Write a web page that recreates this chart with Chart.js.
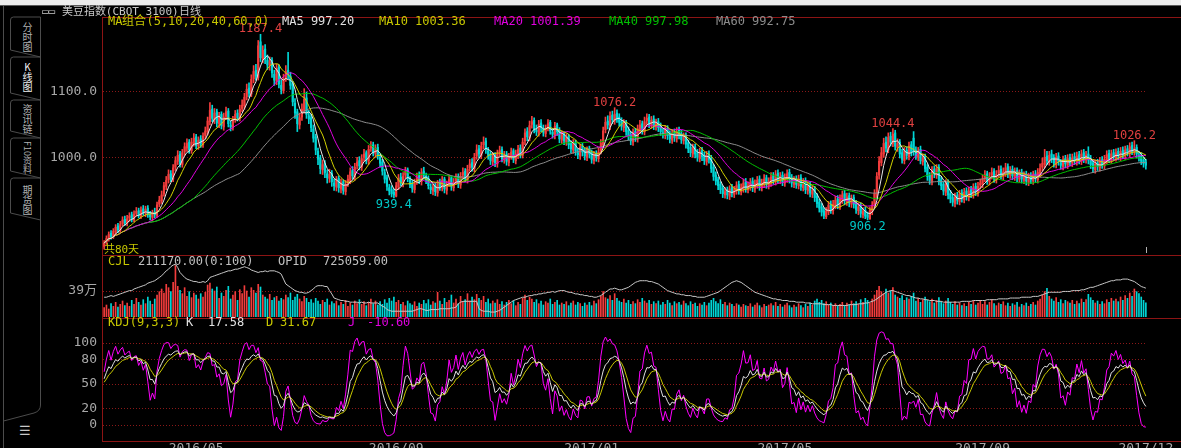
<!DOCTYPE html>
<html lang="zh-CN">
<head>
<meta charset="utf-8">
<title>美豆指数(CBOT 3100)日线</title>
<script src="https://cdn.jsdelivr.net/npm/chart.js@4.4.1/dist/chart.umd.min.js"></script>
<style>
  html, body { margin: 0; padding: 0; background: #000; }
  body { position: relative; width: 1181px; height: 448px; overflow: hidden; font-family: "DejaVu Sans Mono", monospace; }
  canvas { position: absolute; left: 0; }
  .t { position: absolute; white-space: pre; font-size: 12px; line-height: 12px; }
  .rl { position: absolute; background: #8c1414; }
  .tab { position: absolute; left: 22px; writing-mode: vertical-rl; font: 10px/11px "Noto Sans CJK SC", sans-serif; color: #b0b0b0; }
</style>
</head>
<body>
<div style="position:absolute;left:0;top:0;width:1181px;height:5px;background:#ececec"></div>
<div style="position:absolute;left:0;top:5px;width:1181px;height:1px;background:#5a5a5a"></div>

<svg width="102" height="448" style="position:absolute;left:0;top:0" fill="none" stroke="#4c4c4c">
  <path d="M3.5 6 V448"/>
  <path d="M40.5 17 V405 Q40.5 411 34 413 L3.5 421"/>
  <path d="M40.5 17 H13.5 Q10.5 17 10.5 20 V50 L40.5 57"/>
  <path d="M40.5 57 H13.5 Q10.5 57 10.5 60 V93 L40.5 100"/>
  <path d="M40.5 100 H13.5 Q10.5 100 10.5 103 V131 L40.5 138"/>
  <path d="M40.5 138 H13.5 Q10.5 138 10.5 141 V171 L40.5 178"/>
  <path d="M40.5 178 H13.5 Q10.5 178 10.5 181 V213 L40.5 220"/>
</svg>
<div class="tab" style="top:22px">分时图</div>
<div class="tab" style="top:62px;color:#f0f0f0;text-orientation:upright">K线图</div>
<div class="tab" style="top:104px">资讯链</div>
<div class="tab" style="top:141px;font-size:9px">F10资料</div>
<div class="tab" style="top:185px">期货图</div>
<div class="t" style="left:19px;top:425px;font-size:13px;color:#c8c8c8">☰</div>

<canvas id="graficoPrecio" width="1181" height="255" style="top:0"></canvas>
<canvas id="graficoVolumen" width="1181" height="63" style="top:255px"></canvas>
<canvas id="graficoKDJ" width="1181" height="130" style="top:318px"></canvas>

<div class="rl" style="left:102px;top:17px;width:1079px;height:1px"></div>
<div class="rl" style="left:102px;top:255px;width:1079px;height:1px"></div>
<div class="rl" style="left:102px;top:318px;width:1079px;height:1px"></div>
<div class="rl" style="left:102px;top:441px;width:1079px;height:1px"></div>
<div class="rl" style="left:102px;top:17px;width:1px;height:425px"></div>

<div class="t" style="left:42px;top:6px;font-size:11px;color:#c8c8c8">▭▭ 美豆指数(CBOT 3100)日线</div>

<div class="t" style="left:108px;top:15px;color:#c8c800">MA组合(5,10,20,40,60,0)</div>
<div class="t" style="left:282px;top:15px;color:#e0e0e0">MA5 997.20</div>
<div class="t" style="left:379px;top:15px;color:#c8c800">MA10 1003.36</div>
<div class="t" style="left:494px;top:15px;color:#e000e0">MA20 1001.39</div>
<div class="t" style="left:609px;top:15px;color:#00c000">MA40 997.98</div>
<div class="t" style="left:716px;top:15px;color:#8c8c8c">MA60 992.75</div>
<div class="t" style="left:104px;top:244px;font-size:11px;color:#c8c800">共80天</div>

<div class="t" style="left:108px;top:255px;color:#c8c800">CJL</div>
<div class="t" style="left:138px;top:255px;color:#c0c0c0">211170.00(0:100)</div>
<div class="t" style="left:278px;top:255px;color:#c0c0c0">OPID</div>
<div class="t" style="left:323px;top:255px;color:#c0c0c0">725059.00</div>

<div class="t" style="left:108px;top:316px;color:#c8c800">KDJ(9,3,3)</div>
<div class="t" style="left:186px;top:316px;color:#e0e0e0">K</div>
<div class="t" style="left:208px;top:316px;color:#e0e0e0">17.58</div>
<div class="t" style="left:266px;top:316px;color:#c8c800">D</div>
<div class="t" style="left:280px;top:316px;color:#c8c800">31.67</div>
<div class="t" style="left:348px;top:316px;color:#e000e0">J</div>
<div class="t" style="left:367px;top:316px;color:#e000e0">-10.60</div>

<script>
// 美豆指数 日线：K线 + MA，成交量/持仓量，KDJ

const opens = [
  866, 872, 877, 886, 881, 888, 897, 890, 900, 907,
  901, 909, 914, 906, 916, 920, 912, 923, 916, 924,
  914, 910, 918, 913, 930, 935, 946, 957, 967, 976,
  968, 986, 995, 1006, 990, 1009, 1015, 1024, 1011, 1023,
  1032, 1018, 1029, 1020, 1034, 1040, 1055, 1074, 1058, 1070,
  1052, 1066, 1047, 1063, 1071, 1050, 1046, 1059, 1068, 1060,
  1075, 1079, 1093, 1106, 1097, 1120, 1133, 1122, 1176, 1150,
  1165, 1148, 1140, 1148, 1127, 1116, 1138, 1110, 1102, 1121,
  1133, 1124, 1112, 1083, 1070, 1050, 1062, 1072, 1091, 1064,
  1061, 1044, 1032, 1010, 1000, 982, 992, 976, 969, 977,
  962, 956, 969, 953, 964, 949, 962, 966, 981, 971,
  988, 996, 986, 1001, 1008, 995, 1015, 1020, 1006, 1016,
  1001, 994, 978, 970, 955, 952, 948, 942, 956, 971,
  961, 974, 982, 967, 962, 952, 965, 973, 964, 980,
  972, 969, 956, 950, 957, 947, 963, 955, 968, 951,
  962, 970, 955, 965, 972, 959, 974, 980, 967, 985,
  993, 984, 1003, 1014, 1004, 1020, 1026, 1011, 1006, 994,
  1004, 991, 1009, 1013, 997, 1006, 993, 1003, 1011, 996,
  1004, 1015, 1004, 1026, 1040, 1030, 1051, 1057, 1042, 1038,
  1053, 1044, 1037, 1046, 1054, 1039, 1034, 1050, 1042, 1027,
  1037, 1024, 1033, 1022, 1012, 1024, 1008, 1003, 1018, 1011,
  1001, 1014, 1008, 996, 1006, 999, 1011, 1020, 1043, 1056,
  1048, 1065, 1056, 1068, 1062, 1056, 1046, 1053, 1042, 1035,
  1024, 1040, 1029, 1042, 1052, 1040, 1057, 1062, 1050, 1059,
  1047, 1055, 1048, 1038, 1034, 1045, 1036, 1027, 1039, 1029,
  1042, 1037, 1026, 1034, 1023, 1016, 1006, 1017, 1008, 999,
  1011, 1004, 994, 1006, 1000, 986, 974, 967, 960, 954,
  944, 951, 942, 955, 945, 950, 960, 949, 953, 964,
  952, 956, 965, 953, 959, 968, 955, 960, 970, 958,
  962, 973, 964, 977, 966, 974, 962, 968, 978, 970,
  960, 968, 958, 970, 955, 965, 950, 960, 945, 953,
  942, 933, 926, 920, 911, 918, 930, 920, 928, 938,
  927, 936, 946, 933, 943, 930, 940, 932, 920, 928,
  914, 921, 914, 908, 919, 930, 944, 974, 993, 1006,
  1024, 1013, 1033, 1022, 1038, 1016, 1024, 1008, 996, 1012,
  1002, 1020, 1030, 1012, 1001, 1013, 994, 1002, 986, 974,
  964, 983, 974, 986, 967, 960, 948, 963, 946, 940,
  931, 943, 934, 947, 937, 950, 940, 952, 944, 957,
  947, 959, 960, 970, 976, 964, 974, 980, 967, 977,
  983, 972, 977, 987, 974, 983, 971, 981, 968, 978,
  966, 975, 963, 973, 965, 976, 967, 976, 986, 990,
  1003, 994, 1006, 1001, 990, 1003, 993, 987, 999, 989,
  1001, 992, 1002, 994, 1005, 995, 1008, 997, 1006, 999,
  992, 982, 993, 985, 997, 988, 996, 1007, 997, 1008,
  1000, 1010, 1001, 1012, 1003, 1014, 1007, 1019, 1009, 1016,
  1004, 1003, 997, 994
];

const highs = [
  875, 882, 888, 890, 893, 899, 901, 904, 911, 912,
  913, 917, 918, 920, 925, 924, 926, 928, 927, 928,
  919, 921, 924, 933, 942, 950, 963, 972, 982, 981,
  990, 1002, 1011, 1010, 1013, 1023, 1029, 1028, 1030, 1037,
  1036, 1032, 1034, 1038, 1047, 1062, 1084, 1080, 1075, 1074,
  1069, 1070, 1068, 1077, 1075, 1056, 1063, 1072, 1073, 1080,
  1088, 1098, 1112, 1114, 1126, 1140, 1142, 1178, 1187.4, 1170,
  1172, 1156, 1153, 1152, 1133, 1142, 1141, 1118, 1127, 1140,
  1160, 1130, 1116, 1090, 1074, 1068, 1082, 1105, 1100, 1072,
  1066, 1050, 1036, 1015, 1004, 997, 996, 982, 983, 981,
  968, 972, 973, 968, 967, 966, 974, 985, 987, 992,
  1001, 1002, 1005, 1013, 1011, 1019, 1025, 1024, 1020, 1021,
  1006, 998, 983, 974, 960, 958, 953, 963, 975, 977,
  978, 986, 985, 972, 966, 968, 977, 979, 984, 986,
  977, 973, 961, 960, 962, 966, 968, 972, 971, 965,
  974, 973, 969, 976, 976, 978, 985, 984, 989, 998,
  999, 1007, 1020, 1019, 1024, 1032, 1030, 1016, 1010, 1008,
  1008, 1012, 1018, 1017, 1010, 1010, 1007, 1015, 1014, 1012,
  1019, 1020, 1030, 1044, 1046, 1056, 1063, 1061, 1050, 1057,
  1058, 1050, 1050, 1058, 1057, 1045, 1054, 1053, 1046, 1041,
  1040, 1037, 1036, 1026, 1028, 1027, 1014, 1021, 1022, 1015,
  1017, 1018, 1012, 1010, 1011, 1015, 1028, 1047, 1062, 1064,
  1070, 1071, 1076.2, 1073, 1067, 1061, 1058, 1057, 1047, 1040,
  1044, 1045, 1050, 1057, 1056, 1062, 1067, 1066, 1063, 1064,
  1059, 1060, 1053, 1044, 1049, 1049, 1041, 1043, 1044, 1046,
  1047, 1042, 1038, 1038, 1027, 1021, 1021, 1021, 1013, 1015,
  1016, 1009, 1010, 1011, 1004, 990, 979, 971, 964, 958,
  955, 956, 958, 960, 957, 964, 965, 961, 968, 969,
  964, 969, 970, 967, 972, 973, 968, 975, 974, 970,
  978, 978, 981, 982, 978, 979, 976, 982, 983, 975,
  972, 973, 974, 975, 969, 970, 964, 964, 957, 957,
  946, 938, 931, 925, 925, 934, 935, 936, 942, 943,
  944, 950, 951, 947, 947, 944, 944, 936, 932, 932,
  925, 926, 918, 926, 934, 952, 978, 1002, 1016, 1030,
  1032, 1038, 1039, 1044.4, 1042, 1029, 1028, 1013, 1016, 1017,
  1024, 1025, 1040, 1017, 1016, 1018, 1006, 1006, 990, 978,
  987, 988, 990, 990, 972, 964, 967, 967, 951, 945,
  947, 948, 951, 952, 954, 955, 956, 957, 961, 962,
  963, 968, 974, 981, 980, 978, 985, 984, 981, 988,
  988, 985, 992, 991, 987, 988, 985, 985, 982, 983,
  979, 980, 977, 978, 980, 981, 984, 991, 1000, 1013,
  1010, 1010, 1012, 1005, 1007, 1008, 998, 1003, 1004, 1005,
  1006, 1006, 1008, 1009, 1010, 1012, 1013, 1010, 1017, 1004,
  997, 997, 998, 1001, 1002, 1004, 1011, 1012, 1012, 1013,
  1014, 1015, 1016, 1017, 1018, 1019, 1023, 1024, 1026.2, 1020,
  1010, 1008, 1001, 998
];

const lows = [
  862, 869, 874, 877, 878, 884, 887, 887, 897, 898,
  897, 904, 903, 903, 912, 909, 908, 913, 911, 910,
  906, 905, 909, 910, 926, 931, 942, 952, 962, 964,
  964, 981, 990, 986, 986, 1004, 1010, 1007, 1007, 1018,
  1014, 1013, 1016, 1016, 1029, 1035, 1050, 1055, 1052, 1047,
  1046, 1044, 1042, 1058, 1047, 1041, 1042, 1054, 1056, 1056,
  1070, 1074, 1088, 1092, 1093, 1114, 1118, 1118, 1146, 1144,
  1143, 1134, 1133, 1122, 1110, 1111, 1106, 1097, 1098, 1116,
  1120, 1104, 1079, 1060, 1040, 1044, 1057, 1068, 1060, 1052,
  1040, 1024, 1005, 990, 976, 975, 970, 962, 963, 957,
  951, 950, 948, 947, 945, 944, 957, 961, 968, 966,
  983, 982, 981, 995, 991, 990, 1010, 1003, 1001, 998,
  986, 974, 962, 951, 944, 941, 939.4, 941, 952, 958,
  956, 969, 964, 955, 948, 947, 960, 961, 959, 968,
  961, 953, 946, 944, 943, 942, 951, 950, 947, 945,
  957, 951, 950, 960, 955, 954, 969, 964, 962, 980,
  980, 979, 998, 1000, 999, 1014, 1007, 998, 990, 989,
  987, 986, 1003, 994, 992, 989, 988, 998, 993, 991,
  999, 1000, 1000, 1020, 1026, 1026, 1045, 1038, 1034, 1033,
  1040, 1033, 1032, 1041, 1036, 1030, 1029, 1034, 1023, 1022,
  1020, 1019, 1014, 1008, 1007, 1004, 999, 998, 1003, 997,
  996, 1000, 992, 991, 995, 994, 1006, 1016, 1038, 1044,
  1043, 1052, 1051, 1054, 1048, 1042, 1040, 1034, 1027, 1020,
  1019, 1025, 1024, 1037, 1036, 1035, 1051, 1046, 1045, 1043,
  1042, 1040, 1034, 1030, 1029, 1028, 1023, 1022, 1025, 1024,
  1029, 1022, 1021, 1015, 1008, 1002, 1001, 1000, 995, 994,
  996, 990, 989, 992, 978, 966, 959, 952, 946, 940,
  939, 938, 937, 941, 940, 945, 945, 944, 948, 948,
  947, 951, 949, 948, 954, 951, 950, 955, 954, 953,
  957, 960, 959, 962, 961, 958, 957, 963, 962, 956,
  955, 954, 953, 951, 950, 946, 945, 941, 940, 934,
  925, 918, 912, 908, 908, 914, 916, 915, 923, 923,
  922, 931, 929, 928, 926, 925, 924, 916, 914, 910,
  909, 908, 906.2, 907, 914, 925, 940, 968, 988, 1001,
  1009, 1008, 1018, 1017, 1012, 1010, 1000, 992, 991, 998,
  997, 1003, 1004, 998, 996, 991, 989, 979, 966, 960,
  959, 970, 969, 959, 952, 944, 943, 938, 932, 927,
  926, 930, 929, 933, 932, 936, 935, 940, 939, 943,
  942, 953, 955, 964, 960, 959, 968, 963, 962, 971,
  968, 967, 972, 970, 969, 967, 966, 964, 963, 962,
  961, 959, 958, 961, 960, 963, 962, 971, 980, 985,
  990, 989, 993, 986, 985, 989, 983, 982, 985, 984,
  988, 987, 990, 989, 991, 990, 993, 992, 991, 984,
  978, 977, 981, 980, 984, 983, 991, 993, 992, 996,
  995, 997, 996, 999, 998, 1003, 1002, 1005, 1004, 1000,
  995, 990, 986, 983
];

const closes = [
  871, 878, 884, 880, 889, 895, 891, 899, 906, 902,
  908, 912, 907, 915, 919, 913, 921, 917, 922, 915,
  911, 917, 914, 929, 936, 944, 958, 966, 975, 969,
  985, 996, 1004, 991, 1008, 1017, 1022, 1012, 1024, 1030,
  1019, 1027, 1021, 1033, 1041, 1056, 1072, 1060, 1068, 1053,
  1064, 1049, 1062, 1070, 1052, 1047, 1058, 1066, 1061, 1074,
  1080, 1092, 1104, 1098, 1119, 1131, 1124, 1170, 1152, 1163,
  1150, 1141, 1146, 1129, 1118, 1136, 1112, 1104, 1120, 1131,
  1126, 1110, 1085, 1068, 1052, 1061, 1074, 1089, 1066, 1059,
  1046, 1030, 1012, 998, 984, 990, 978, 970, 975, 964,
  958, 967, 955, 962, 951, 960, 968, 979, 973, 986,
  994, 988, 999, 1006, 997, 1013, 1018, 1008, 1014, 1003,
  992, 980, 968, 957, 950, 946, 944, 958, 969, 963,
  972, 980, 969, 960, 954, 963, 971, 966, 978, 974,
  967, 958, 952, 955, 949, 961, 957, 966, 953, 960,
  968, 957, 963, 970, 961, 972, 978, 969, 983, 991,
  986, 1001, 1012, 1006, 1018, 1024, 1013, 1004, 996, 1002,
  993, 1007, 1011, 999, 1004, 995, 1001, 1009, 998, 1006,
  1013, 1006, 1024, 1038, 1032, 1049, 1055, 1044, 1040, 1051,
  1046, 1039, 1044, 1052, 1041, 1036, 1048, 1040, 1029, 1035,
  1026, 1031, 1020, 1014, 1022, 1010, 1005, 1016, 1009, 1003,
  1012, 1006, 998, 1004, 1001, 1009, 1022, 1041, 1054, 1050,
  1063, 1058, 1066, 1060, 1054, 1048, 1051, 1040, 1033, 1026,
  1038, 1031, 1044, 1050, 1042, 1055, 1060, 1052, 1057, 1049,
  1053, 1046, 1040, 1036, 1043, 1034, 1029, 1037, 1031, 1040,
  1035, 1028, 1032, 1021, 1014, 1008, 1015, 1006, 1001, 1009,
  1002, 996, 1004, 998, 984, 972, 965, 958, 952, 946,
  949, 944, 953, 947, 952, 958, 951, 955, 962, 954,
  958, 963, 955, 961, 966, 957, 962, 968, 960, 964,
  971, 966, 975, 968, 972, 964, 970, 976, 968, 962,
  966, 960, 968, 957, 963, 952, 958, 947, 951, 940,
  931, 924, 918, 913, 920, 928, 922, 930, 936, 929,
  938, 944, 935, 941, 932, 938, 930, 922, 926, 916,
  919, 912, 910, 921, 928, 946, 972, 995, 1008, 1022,
  1015, 1031, 1024, 1036, 1018, 1022, 1006, 998, 1010, 1004,
  1018, 1009, 1010, 1003, 1011, 996, 1000, 984, 972, 966,
  981, 976, 984, 965, 958, 950, 961, 944, 938, 933,
  941, 936, 945, 939, 948, 942, 950, 946, 955, 949,
  957, 962, 968, 974, 966, 972, 978, 969, 975, 981,
  974, 979, 985, 976, 981, 973, 979, 970, 976, 968,
  973, 965, 971, 967, 974, 969, 978, 984, 992, 1001,
  996, 1004, 999, 992, 1001, 995, 989, 997, 991, 999,
  994, 1000, 996, 1003, 997, 1006, 999, 1004, 997, 990,
  984, 991, 987, 995, 990, 998, 1005, 999, 1006, 1002,
  1008, 1003, 1010, 1005, 1012, 1009, 1017, 1011, 1014, 1006,
  1001, 995, 992, 989
];

// 成交量（万手）
const volumes = [
  14, 18, 12, 20, 16, 22, 15, 19, 24, 17,
  21, 16, 25, 19, 28, 22, 18, 26, 20, 30,
  24, 19, 27, 33, 38, 42, 36, 49, 44, 38,
  52, 77, 46, 40, 35, 44, 31, 38, 29, 36,
  33, 27, 35, 30, 37, 48, 51, 42, 39, 45,
  28, 36, 31, 40, 46, 27, 33, 38, 25, 41,
  35, 47, 39, 30, 44, 40, 36, 49, 45, 33,
  30, 27, 34, 25, 29, 31, 24, 28, 26, 33,
  29, 36, 25, 30, 34, 27, 23, 31, 28, 22,
  26, 21, 28, 24, 19, 25, 22, 27, 18, 23,
  20, 24, 17, 22, 19, 25, 16, 21, 18, 24,
  20, 26, 19, 23, 17, 22, 27, 20, 24, 18,
  23, 19, 26, 21, 28, 24, 30, 22, 25, 19,
  22, 17, 24, 20, 18, 23, 16, 21, 19, 25,
  20, 26, 18, 23, 21, 37, 24, 19, 28, 22,
  25, 33, 21, 27, 20, 31, 23, 26, 35, 24,
  30, 26, 34, 28, 25, 31, 22, 27, 20, 24,
  21, 26, 19, 23, 18, 22, 25, 20, 24, 17,
  22, 19, 28, 33, 25, 30, 27, 22, 26, 20,
  24, 18, 23, 21, 27, 19, 22, 25, 18, 21,
  19, 23, 17, 21, 24, 18, 22, 20, 16, 21,
  18, 22, 17, 24, 20, 26, 31, 38, 29, 27,
  32, 25, 35, 28, 24, 22, 27, 21, 25, 19,
  23, 20, 26, 22, 28, 24, 21, 25, 19, 23,
  20, 24, 18, 22, 19, 25, 21, 17, 23, 20,
  22, 18, 24, 20, 17, 23, 19, 21, 16, 20,
  18, 22, 17, 21, 25, 28, 23, 20, 26, 19,
  22, 17, 21, 19, 16, 20, 18, 15, 19, 17,
  16, 20, 15, 18, 21, 17, 14, 19, 16, 18,
  20, 17, 22, 16, 19, 15, 18, 21, 17, 14,
  18, 15, 20, 17, 14, 19, 16, 21, 18, 24,
  27, 22, 25, 20, 23, 18, 21, 17, 20, 16,
  19, 22, 17, 21, 18, 24, 20, 23, 19, 26,
  22, 28, 25, 21, 27, 33, 40, 46, 38, 35,
  42, 36, 39, 44, 33, 30, 28, 32, 25, 29,
  27, 31, 36, 24, 28, 22, 26, 30, 25, 23,
  27, 21, 25, 29, 23, 20, 24, 28, 22, 19,
  23, 18, 21, 17, 20, 16, 22, 19, 24, 18,
  21, 25, 19, 23, 18, 22, 26, 20, 17, 21,
  19, 23, 17, 21, 16, 20, 18, 22, 15, 19,
  17, 21, 16, 19, 22, 18, 24, 27, 33, 38,
  43, 31, 27, 24, 29, 22, 26, 20, 25, 23,
  21, 25, 19, 24, 20, 27, 22, 26, 34, 29,
  25, 21, 24, 19, 23, 20, 26, 22, 28, 24,
  27, 23, 30, 25, 32, 28, 36, 31, 42, 38,
  35, 30, 25, 21.117
];

// 持仓量（万手）
const openInterest = [
  67, 67, 67.5, 68, 67.5, 68, 68.5, 69, 69.5, 70,
  70.5, 71, 71, 72, 72.5, 73, 73.5, 74, 74.5, 75.5,
  76, 76.5, 77, 78, 79, 80, 81.5, 83, 84, 85.5,
  86.5, 87, 85, 82, 80.5, 79, 78, 77.5, 77, 76.5,
  76.5, 76, 76, 76.5, 76, 77, 79, 79.5, 80, 80.5,
  81, 81.5, 82, 82.5, 83, 83, 83.5, 84, 84, 84.5,
  85, 85.5, 85, 84.5, 83.5, 83, 82.5, 82, 82.5, 82.5,
  83, 82.5, 83, 83, 83, 82.5, 82, 81, 78, 75,
  74, 73, 72, 71, 70.5, 70, 70, 69.5, 69.5, 70,
  71, 72, 73.5, 74, 74, 74, 73.5, 73.5, 71, 69,
  66.5, 66, 65.5, 65, 65, 64.5, 64.5, 64, 64, 64,
  64, 63.5, 64, 63.5, 63.5, 64, 63.5, 63.5, 63.5, 63.5,
  62.5, 61.5, 61, 59.5, 59, 58.5, 58.5, 58.5, 58.5, 58.5,
  58.5, 58.5, 58.5, 58.5, 58.5, 59, 59.5, 60, 60, 59.5,
  59, 59, 59.5, 59.5, 59.5, 59.5, 60, 60, 60, 60,
  60, 60.5, 60.5, 61, 63, 64, 64.5, 64.5, 64.5, 64.5,
  64.5, 64.5, 64.5, 60, 59, 58.5, 58.5, 58.5, 58, 58,
  58, 58.5, 59, 60, 61, 62, 63, 64, 65, 65.5,
  66, 66.5, 67, 67, 67.5, 68, 68, 68.5, 68.5, 69,
  69, 69.5, 69.5, 70, 70, 70.5, 70, 70.5, 71, 71,
  71, 70.5, 70, 70, 69.5, 69, 69, 68.5, 68.5, 68,
  68, 67.5, 67.5, 67, 67, 67.5, 68, 69, 70, 71,
  72, 72, 72.5, 72, 71.5, 71.5, 72, 72.5, 73, 74,
  75, 76, 76.5, 77, 77, 77, 77, 76.5, 76.5, 76,
  75.5, 75, 74, 73, 72, 71, 70.5, 70, 69.5, 69,
  69, 68.5, 68.5, 68, 68, 68, 67.5, 67.5, 67, 67,
  67, 67, 67.5, 68, 68.5, 69, 69.5, 70, 71, 72,
  73, 74, 75, 76, 76.5, 77, 76.5, 76, 75, 74,
  73, 72, 71, 70, 69.5, 69, 68.5, 68, 67.5, 67,
  66.5, 66, 66, 65.5, 65.5, 65, 65, 65, 64.5, 64.5,
  64.5, 64, 64, 64, 64, 63.5, 63.5, 63.5, 63, 63,
  63, 63, 63, 62.5, 62.5, 62.5, 62.5, 62, 62, 62,
  62, 62, 62, 62, 62.5, 62.5, 62.5, 62.5, 63, 63,
  63, 63.5, 63.5, 64, 64.5, 65, 66, 67, 68, 69,
  70, 70.5, 71, 71, 70.5, 70, 69.5, 69, 68.5, 68,
  68, 67.5, 67, 66.5, 66.5, 66, 66, 65.5, 65.5, 65,
  65, 65, 64.5, 64.5, 64.5, 64, 64, 64, 64, 64,
  64, 64, 64, 64.5, 64.5, 64.5, 64.5, 64.5, 65, 65,
  65, 65, 65, 65, 65.5, 65.5, 65.5, 65.5, 65.5, 66,
  66, 66, 66, 66, 66.5, 66.5, 66.5, 66.5, 66.5, 67,
  67, 67, 67, 67, 67.5, 67.5, 67.5, 68, 68.5, 69,
  69.5, 70, 70, 70, 70, 70, 70, 70.5, 70.5, 70.5,
  70.5, 71, 71, 71, 71, 71.5, 71.5, 72, 72.5, 73,
  73, 73.5, 74, 74.5, 75, 75.5, 76, 76.5, 77, 77,
  77.5, 77.5, 77.5, 78, 78, 78, 77.5, 77, 76.5, 75.5,
  74.5, 73.5, 73, 72.5059
];

// 时间轴刻度：K线序号与月份
const tickIdx = [40, 127, 212, 296, 382, 453];
const tickLabels = ['2016/05', '2016/09', '2017/01', '2017/05', '2017/09', '2017/12'];

// 标注的高低点（序号，h=最高，l=最低）
const markIdx = [68, 126, 222, 332, 343, 448];
const markType = ['h', 'l', 'h', 'l', 'h', 'h'];

const labels = closes.map((_, i) => i);
const upColor = '#f23c3c';
const downColor = '#00d6d6';
const candleColors = closes.map((c, i) => c >= opens[i] ? upColor : downColor);
const monoFont = { family: 'DejaVu Sans Mono', size: 13 };

function ma(n) {
  return closes.map((c, i) => {
    const desde = Math.max(0, i - n + 1);
    let suma = 0;
    for (let j = desde; j <= i; j++) suma += closes[j];
    return suma / (i - desde + 1);
  });
}

function kdj(n, m1, m2) {
  const K = [], D = [], J = [];
  let k = 50, d = 50;
  for (let i = 0; i < closes.length; i++) {
    const desde = Math.max(0, i - n + 1);
    const hi = Math.max(...highs.slice(desde, i + 1));
    const lo = Math.min(...lows.slice(desde, i + 1));
    const rsv = hi === lo ? 50 : (closes[i] - lo) / (hi - lo) * 100;
    k = ((m1 - 1) * k + rsv) / m1;
    d = ((m2 - 1) * d + k) / m2;
    K.push(k); D.push(d); J.push(3 * k - 2 * d);
  }
  return { K, D, J };
}

// 去掉刻度文字引起的额外留白，三个面板才能对齐
function sinRelleno(s) {
  s.paddingTop = 0; s.paddingBottom = 0;
  s.paddingLeft = 0; s.paddingRight = 0;
}

function xAxis(show) {
  return {
    type: 'category', offset: true, display: show,
    grid: { display: false, drawTicks: false }, border: { display: false },
    afterFit: s => { if (show) s.height = 7; sinRelleno(s); },
    afterBuildTicks: s => { s.ticks = tickIdx.map(v => ({ value: v })); },
    ticks: {
      color: '#a8a8a8', padding: 0, maxRotation: 0, autoSkip: false, font: monoFont,
      callback: (v, i) => tickLabels[i]
    }
  };
}

function yAxis(min, max, ticks, fmt) {
  return {
    position: 'left', min, max,
    afterFit: s => { s.width = 103; sinRelleno(s); },
    afterBuildTicks: s => { s.ticks = ticks.map(v => ({ value: v })); },
    grid: { color: '#8a1818', drawTicks: false },
    border: { display: false, dash: [1, 2] },
    ticks: { color: '#a8a8a8', padding: 6, font: monoFont, callback: fmt }
  };
}

function line(data, color, axis) {
  return {
    type: 'line', data, borderColor: color, borderWidth: 1,
    pointRadius: 0, tension: 0, yAxisID: axis || 'y', order: 0
  };
}

const baseOptions = {
  responsive: false, animation: false, events: [],
  plugins: { legend: { display: false }, tooltip: { enabled: false } }
};

// 高低点数值标注
const markPlugin = {
  id: 'marcas',
  afterDatasetsDraw(chart) {
    const { ctx, chartArea, scales: { x, y } } = chart;
    ctx.save();
    ctx.font = '12px "DejaVu Sans Mono"';
    ctx.textAlign = 'center';
    markIdx.forEach((i, n) => {
      const alto = markType[n] === 'h';
      const v = alto ? highs[i] : lows[i];
      ctx.fillStyle = alto ? '#e04040' : '#00c8c8';
      ctx.textBaseline = alto ? 'alphabetic' : 'top';
      ctx.fillText(v.toFixed(1), x.getPixelForValue(i), y.getPixelForValue(v) + (alto ? -2 : 1));
    });
    const xf = Math.round(x.getPixelForValue(closes.length - 1)) + 0.5;
    ctx.strokeStyle = '#b0b0b0';
    ctx.beginPath();
    ctx.moveTo(xf, chartArea.bottom - 8);
    ctx.lineTo(xf, chartArea.bottom - 2);
    ctx.stroke();
    ctx.restore();
  }
};

const k = kdj(9, 3, 3);

new Chart(document.getElementById('graficoPrecio'), {
  type: 'bar',
  data: {
    labels,
    datasets: [
      line(ma(5), '#e8e8e8'),
      line(ma(10), '#d2d200'),
      line(ma(20), '#e000e0'),
      line(ma(40), '#00c000'),
      line(ma(60), '#8c8c8c'),
      { data: opens.map((o, i) => [o, closes[i]]), backgroundColor: candleColors,
        barThickness: 1.5, minBarLength: 1, grouped: false, order: 1 },
      { data: lows.map((l, i) => [l, highs[i]]), backgroundColor: candleColors,
        barThickness: 1, grouped: false, order: 2 }
    ]
  },
  options: {
    ...baseOptions,
    layout: { padding: { top: 17, right: 34, left: 0, bottom: 0 } },
    scales: {
      x: xAxis(false),
      y: yAxis(853, 1213.6, [1000, 1100], v => v.toFixed(1))
    }
  },
  plugins: [markPlugin]
});

new Chart(document.getElementById('graficoVolumen'), {
  type: 'bar',
  data: {
    labels,
    datasets: [
      line(openInterest, '#c8c8c8', 'yOI'),
      { data: volumes, backgroundColor: candleColors, barThickness: 1, order: 1 }
    ]
  },
  options: {
    ...baseOptions,
    layout: { padding: { top: 1, right: 34, left: 0, bottom: 1 } },
    scales: {
      x: xAxis(false),
      y: yAxis(0, 91.5, [39], v => v + '万'),
      yOI: { display: false, min: 55, max: 92 }
    }
  }
});

new Chart(document.getElementById('graficoKDJ'), {
  type: 'line',
  data: {
    labels,
    datasets: [
      line(k.K, '#e0e0e0'),
      line(k.D, '#c8c800'),
      line(k.J, '#ff00ff')
    ]
  },
  options: {
    ...baseOptions,
    layout: { padding: { top: 1, right: 34, left: 0, bottom: 0 } },
    scales: {
      x: xAxis(true),
      y: yAxis(-19.5, 129.3, [0, 20, 50, 80, 100], v => String(v))
    }
  }
});
</script>
</body>
</html>
